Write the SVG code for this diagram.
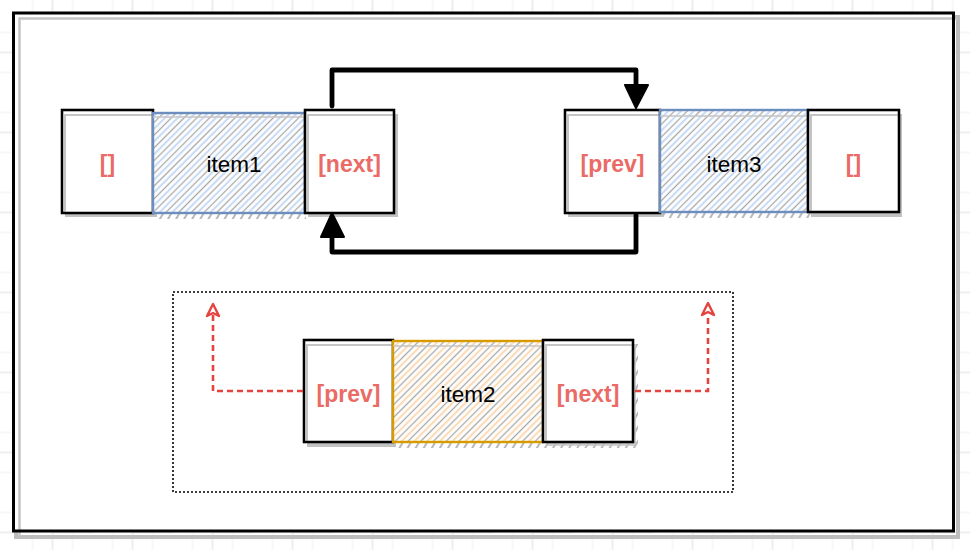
<svg xmlns="http://www.w3.org/2000/svg" width="970" height="550" viewBox="0 0 970 550">
<defs>
<pattern id="grid" x="12.5" y="12.5" width="80" height="80" patternUnits="userSpaceOnUse">
<path d="M20 0V80M40 0V80M60 0V80M0 20H80M0 40H80M0 60H80" stroke="#efefef" stroke-width="1" fill="none"/>
<path d="M0 0V80M0 0H80" stroke="#e4e4e4" stroke-width="1" fill="none" transform="translate(40 40)"/>
</pattern>
<pattern id="hBlue" width="9" height="9" patternUnits="userSpaceOnUse" patternTransform="rotate(45)">
<line x1="2" y1="0" x2="2" y2="9" stroke="#cadcf5" stroke-width="2.2"/>
<line x1="6.5" y1="0" x2="6.5" y2="9" stroke="#a6a6a6" stroke-width="1.3"/>
</pattern>
<pattern id="hOrange" width="9" height="9" patternUnits="userSpaceOnUse" patternTransform="rotate(45)">
<line x1="2" y1="0" x2="2" y2="9" stroke="#fcdcb8" stroke-width="2.2"/>
<line x1="6.5" y1="0" x2="6.5" y2="9" stroke="#a6a6a6" stroke-width="1.3"/>
</pattern>
<pattern id="hShadow" width="7" height="7" patternUnits="userSpaceOnUse" patternTransform="rotate(30)">
<line x1="3" y1="0" x2="3" y2="7" stroke="#a0a0a0" stroke-width="1.5"/>
</pattern>
</defs>
<style>
.box{fill:#fff;stroke:#000;stroke-width:2.2}
.boxg{fill:none;stroke:#c4c4c4;stroke-width:2}
.shd{fill:#c2c2c2;stroke:none}
.lbl{font-family:"Liberation Sans",Arial,Helvetica,sans-serif;font-size:23px;font-weight:bold;fill:#ea6b66;text-anchor:middle}
.itm{font-family:"Liberation Sans",Arial,Helvetica,sans-serif;font-size:22.5px;fill:#000;text-anchor:middle}
.blue{fill:url(#hBlue);stroke:#6c8ebf;stroke-width:2.4}
.orange{fill:url(#hOrange);stroke:#d79b00;stroke-width:2.4}
.hsh{fill:url(#hShadow);stroke:none}
.conn{fill:none;stroke:#000;stroke-width:4.8;stroke-linejoin:round;stroke-linecap:round}
.red{fill:none;stroke:#e5433f;stroke-width:2.6;stroke-dasharray:6 4}
.redh{fill:none;stroke:#e5433f;stroke-width:2.4;stroke-linejoin:round}
</style>
<rect x="0" y="0" width="970" height="550" fill="#fff"/>
<rect x="0" y="0" width="970" height="550" fill="url(#grid)"/>
<g id="frame">
<rect x="16" y="17" width="942" height="520" fill="none" stroke="#bdbdbd" stroke-width="4"/>
<rect x="13.5" y="13" width="940" height="518" fill="#fff" stroke="none"/>
<path d="M19.5 536V18.5H957" fill="none" stroke="#c4c4c4" stroke-width="2.5"/>
<rect x="13.5" y="13" width="940" height="518" fill="none" stroke="#000" stroke-width="3"/>
</g>
<g id="group-box">
<rect x="173" y="292" width="560" height="200" fill="none" stroke="#000" stroke-width="1.6" stroke-dasharray="2 2"/>
</g>
<g id="item1-left">
<rect class="shd" x="65" y="114" width="92" height="103"/>
<rect class="box" x="62" y="110" width="91" height="103"/>
<rect class="boxg" x="65" y="115" width="88" height="98"/>
<rect x="62" y="110" width="91" height="103" fill="none" stroke="#000" stroke-width="2.4"/>
<text class="lbl" x="107.5" y="172">[]</text>
</g>
<g id="item1">
<rect class="hsh" x="156" y="117" width="150" height="102"/>
<rect x="153" y="113" width="152" height="100" fill="#fff"/>
<rect class="blue" x="153" y="113" width="152" height="100"/>
<line x1="153" y1="117" x2="305" y2="117" stroke="#c4c4c4" stroke-width="1.5"/>
<text class="itm" x="234" y="172">item1</text>
</g>
<g id="item1-next">
<rect class="shd" x="308" y="114" width="90" height="103"/>
<rect class="box" x="305" y="110" width="89" height="103"/>
<rect class="boxg" x="308" y="115" width="86" height="98"/>
<rect x="305" y="110" width="89" height="103" fill="none" stroke="#000" stroke-width="2.4"/>
<text class="lbl" x="349.5" y="172">[next]</text>
</g>
<g id="item3-prev">
<rect class="shd" x="568" y="114" width="95" height="103"/>
<rect class="box" x="565" y="110" width="95" height="103"/>
<rect class="boxg" x="568" y="115" width="92" height="98"/>
<rect x="565" y="110" width="95" height="103" fill="none" stroke="#000" stroke-width="2.4"/>
<text class="lbl" x="612.5" y="172">[prev]</text>
</g>
<g id="item3">
<rect class="hsh" x="663" y="114" width="148" height="104"/>
<rect x="660" y="110" width="148" height="102" fill="#fff"/>
<rect class="blue" x="660" y="110" width="148" height="102"/>
<line x1="660" y1="116" x2="808" y2="116" stroke="#c4c4c4" stroke-width="1.5"/>
<text class="itm" x="734" y="172">item3</text>
</g>
<g id="item3-right">
<rect class="shd" x="811" y="114" width="91" height="103"/>
<rect class="box" x="808" y="110" width="91" height="102"/>
<rect class="boxg" x="811" y="115" width="88" height="97"/>
<rect x="808" y="110" width="91" height="102" fill="none" stroke="#000" stroke-width="2.4"/>
<text class="lbl" x="853.5" y="172">[]</text>
</g>
<g id="item2-prev">
<rect class="shd" x="307" y="344" width="89" height="103"/>
<rect class="box" x="304" y="340" width="89" height="102"/>
<rect class="boxg" x="307" y="345" width="86" height="97"/>
<rect x="304" y="340" width="89" height="102" fill="none" stroke="#000" stroke-width="2.4"/>
<text class="lbl" x="348.5" y="402">[prev]</text>
</g>
<g id="item2">
<rect class="hsh" x="396" y="345" width="150" height="103"/>
<rect x="393" y="341" width="150" height="101" fill="#fff"/>
<rect class="orange" x="393" y="341" width="150" height="101"/>
<line x1="393" y1="346" x2="543" y2="346" stroke="#c4c4c4" stroke-width="1.5"/>
<text class="itm" x="468" y="402">item2</text>
</g>
<g id="item2-next">
<rect class="hsh" x="546" y="344" width="92" height="104"/>
<rect class="shd" x="546" y="344" width="90" height="102" opacity="0.8"/>
<rect class="box" x="543" y="340" width="90" height="102"/>
<rect class="boxg" x="546" y="345" width="87" height="97"/>
<rect x="543" y="340" width="90" height="102" fill="none" stroke="#000" stroke-width="2.4"/>
<text class="lbl" x="588" y="402">[next]</text>
</g>
<g id="connectors">
<path class="conn" d="M332 106V70H636V88"/>
<path d="M625 85L648 85L636 108Z" fill="#000" stroke="#000" stroke-width="2" stroke-linejoin="round"/>
<path class="conn" d="M636 215V252H332V234"/>
<path d="M321 237L344 237L332 213Z" fill="#000" stroke="#000" stroke-width="2" stroke-linejoin="round"/>
<path class="red" d="M303 391H213V314"/>
<path class="redh" d="M213 304L207 316L213 313L219 316Z"/>
<path class="red" d="M635 391H708V314"/>
<path class="redh" d="M708 303L702 315L708 312L714 315Z"/>
</g>
</svg>
